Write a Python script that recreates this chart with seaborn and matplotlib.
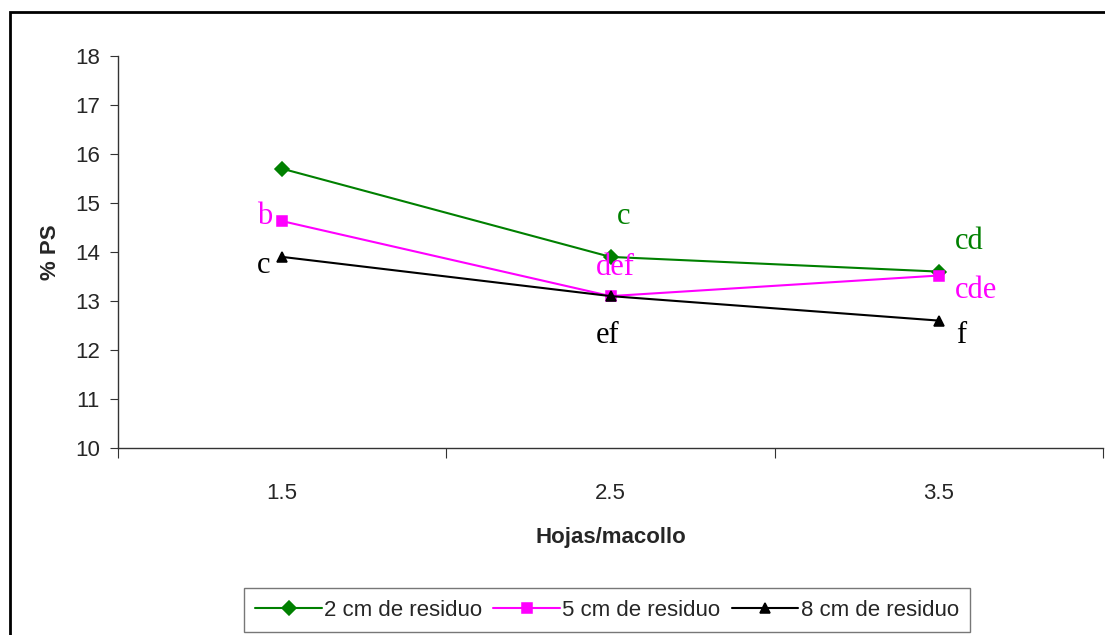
import numpy as np
import pandas as pd
import matplotlib
matplotlib.use("Agg")
import matplotlib.pyplot as plt
from matplotlib.patches import Rectangle
import seaborn as sns

# ---- data ----
categories = ["1.5", "2.5", "3.5"]
series_names = ["2 cm de residuo", "5 cm de residuo", "8 cm de residuo"]
vals_2cm = [15.7, 13.9, 13.6]
vals_5cm = [14.63, 13.1, 13.52]
vals_8cm = [13.9, 13.1, 12.6]
letters_2cm = ["", "c", "cd"]
letters_5cm = ["b", "def", "cde"]
letters_8cm = ["c", "ef", "f"]

colors = ["#008000", "#FF00FF", "#000000"]
markers = ["D", "s", "^"]

rows = []
for name, vals in zip(series_names, [vals_2cm, vals_5cm, vals_8cm]):
    for c, v in zip(categories, vals):
        rows.append({"Hojas/macollo": c, "% PS": v, "serie": name})
df = pd.DataFrame(rows)

sns.set_theme(style="white")
plt.rcParams["font.family"] = ["Liberation Sans", "DejaVu Sans"]

fig = plt.figure(figsize=(11.05, 6.35), dpi=100)
ax = fig.add_axes([118 / 1105, 1 - 448 / 635, (1103 - 118) / 1105, (448 - 56) / 635])

sns.pointplot(data=df, x="Hojas/macollo", y="% PS", hue="serie",
              order=categories, hue_order=series_names,
              palette=colors, markers=markers, linestyles="-",
              markersize=7, linewidth=1.5, dodge=False, errorbar=None, ax=ax)

ax.set_xlim(-0.5, len(categories) - 0.5)
ax.set_ylim(10, 18)
ax.set_yticks(np.arange(10, 19, 1))
ax.set_yticklabels([str(v) for v in range(10, 19)], fontsize=16)
ax.set_xticks(np.arange(-0.5, len(categories), 1.0))
ax.set_xticklabels([""] * (len(categories) + 1))
ax.set_xticks(range(len(categories)), minor=True)
ax.set_xticklabels(categories, minor=True, fontsize=16)
ax.tick_params(axis="x", which="major", length=7, width=0.8, color="#333333", direction="out", bottom=True)
ax.tick_params(axis="x", which="minor", length=0, pad=25)
ax.tick_params(axis="y", which="major", length=6, width=0.8, color="#333333", direction="out", left=True, pad=7)

for s in ["top", "right"]:
    ax.spines[s].set_visible(False)
for s in ["left", "bottom"]:
    ax.spines[s].set_color("#333333")
    ax.spines[s].set_linewidth(1.0)
ax.grid(False)

ax.set_xlabel("Hojas/macollo", fontsize=16, fontweight="bold", labelpad=17)
ax.set_ylabel("% PS", fontsize=16, fontweight="bold", labelpad=10)

# significance letters
offsets = {
    0: [(0, 0), (-17, 5), (-19, -9)],
    1: [(13, 40), (5, 29), (-3, -39)],
    2: [(30, 30), (37, -15), (22, -15)],
}
for si, (vals, lets) in enumerate(zip([vals_2cm, vals_5cm, vals_8cm],
                                       [letters_2cm, letters_5cm, letters_8cm])):
    for ci, (v, t) in enumerate(zip(vals, lets)):
        if not t:
            continue
        dx, dy = offsets[ci][si]
        ax.annotate(t, xy=(ci, v), xytext=(dx * 0.72, dy * 0.72),
                    textcoords="offset points", ha="center", va="center",
                    fontsize=22, color=colors[si], family="Liberation Serif")

# legend
ax.get_legend().remove()
handles, labels = ax.get_legend_handles_labels()
leg = fig.legend(handles, labels, loc="center", bbox_to_anchor=(607 / 1105, 1 - 610 / 635),
                 ncol=3, frameon=True, fancybox=False, edgecolor="#555555",
                 fontsize=16, handlelength=3.0, handletextpad=0.1,
                 columnspacing=0.5, borderpad=0.5)
leg.get_frame().set_linewidth(1.0)

# outer chart-area border
fig.patches.append(Rectangle((10 / 1105, -0.05), 1.2, 1 - 12 / 635 + 0.05,
                             transform=fig.transFigure, fill=False,
                             edgecolor="black", linewidth=2, clip_on=False))

fig.savefig("out.png", dpi=100)
